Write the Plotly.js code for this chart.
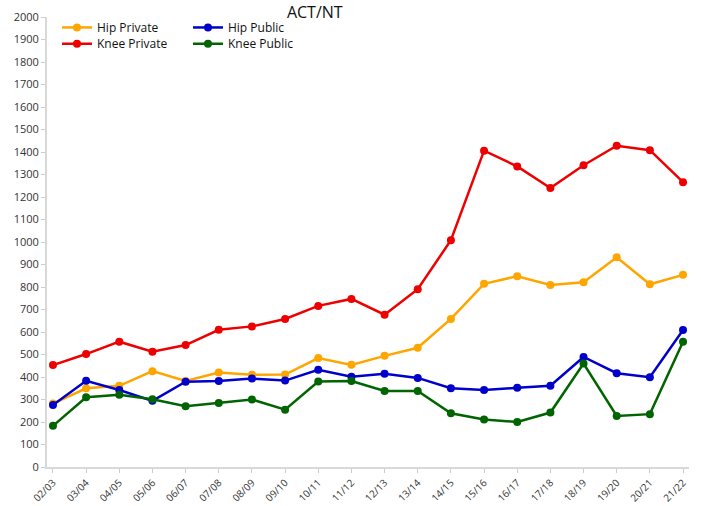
<!DOCTYPE html>
<html>
<head>
<meta charset="utf-8">
<script src="https://cdn.plot.ly/plotly-3.0.1.min.js"></script>
<style>html,body{margin:0;padding:0;background:#fff;}#chart{width:701px;height:506px;}</style>
</head>
<body>
<div id="chart"></div>
<script>
const years = ["02/03","03/04","04/05","05/06","06/07","07/08","08/09","09/10","10/11","11/12","12/13","13/14","14/15","15/16","16/17","17/18","18/19","19/20","20/21","21/22"];
const hipPrivate = [282,350,361,426,382,420,410,411,484,454,494,530,658,814,848,809,821,932,812,854];
const kneePrivate = [453,502,557,512,542,610,625,658,716,747,677,790,1008,1406,1336,1240,1341,1428,1408,1266];
const hipPublic = [276,383,342,294,379,382,393,384,432,401,414,396,350,342,352,361,489,417,399,609];
const kneePublic = [183,310,321,301,270,284,300,255,380,382,338,338,239,211,200,242,460,227,235,557];
const yTicks = [0,100,200,300,400,500,600,700,800,900,1000,1100,1200,1300,1400,1500,1600,1700,1800,1900,2000];

function tr(name, y, color, legend) {
  return {x: years, y: y, name: name, type: 'scatter', mode: 'lines+markers',
    line: {color: color, width: 2.5}, marker: {color: color, size: 8}, legend: legend};
}
const data = [
  tr('Hip Private', hipPrivate, '#FFA500', 'legend'),
  tr('Knee Private', kneePrivate, '#EE0000', 'legend2'),
  tr('Hip Public', hipPublic, '#0000CD', 'legend3'),
  tr('Knee Public', kneePublic, '#006400', 'legend4')
];
const font = {family: 'Open Sans, Noto Sans, sans-serif', color: '#333', size: 11};
function leg(x, y) {
  return {bgcolor: 'rgba(0,0,0,0)', font: {family: font.family, size: 12, color: '#111'},
    orientation: 'v', yanchor: 'top', xanchor: 'left', itemwidth: 30, x: x, y: y};
}
const layout = {
  width: 701, height: 506,
  margin: {l: 47, r: 12, t: 17, b: 39},
  paper_bgcolor: '#fff', plot_bgcolor: '#fff',
  font: font,
  title: {text: 'ACT/NT', font: {family: font.family, size: 16, color: '#111'},
    x: 0.449, xanchor: 'center', xref: 'container', y: 0.976, yref: 'container', yanchor: 'middle'},
  xaxis: {type: 'category', range: [-0.18, 19.18], tickangle: -45, showgrid: false,
    showline: true, linecolor: '#d9d9d9', linewidth: 2, ticks: 'outside', ticklen: 4,
    tickcolor: '#ccc', tickfont: {size: 10, color: '#333'}, zeroline: false, fixedrange: true},
  yaxis: {range: [0, 2000], tickvals: yTicks, showgrid: false, showline: true,
    linecolor: '#d9d9d9', linewidth: 2, ticks: 'outside', ticklen: 4, tickcolor: '#ccc',
    tickfont: {size: 11, color: '#333'}, zeroline: false, fixedrange: true},
  legend: leg(0.0156, 1.009),
  legend2: leg(0.0156, 0.973),
  legend3: leg(0.2196, 1.009),
  legend4: leg(0.2196, 0.973),
  showlegend: true
};
Plotly.newPlot('chart', data, layout, {displayModeBar: false, staticPlot: true});
</script>
</body>
</html>
